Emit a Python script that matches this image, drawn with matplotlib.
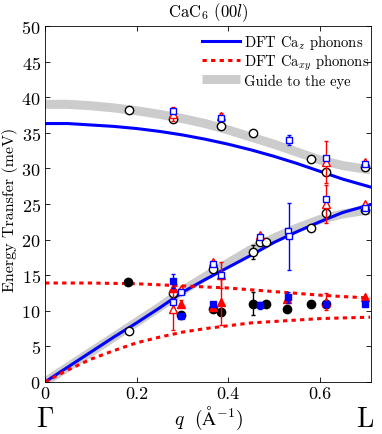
import matplotlib
matplotlib.use("Agg")
import matplotlib.pyplot as plt

plt.rcParams["font.family"] = "serif"
plt.rcParams["font.serif"] = ["cmr10", "DejaVu Serif"]
plt.rcParams["mathtext.fontset"] = "cm"
plt.rcParams["axes.formatter.use_mathtext"] = True

# model / guide curves
q_curve = [0.0, 0.05, 0.1, 0.15, 0.2, 0.25, 0.3, 0.35, 0.4, 0.45, 0.5, 0.55, 0.6, 0.65, 0.71]
guide_opt = [39.0, 39.0, 38.8, 38.5, 38.1, 37.6, 37.0, 36.3, 35.4, 34.4, 33.4, 32.3, 31.2, 30.4, 29.8]
guide_ac = [0.0, 2.1, 4.2, 6.3, 8.4, 10.5, 12.8, 14.8, 16.7, 18.6, 20.2, 21.6, 22.8, 23.6, 24.2]
caz_opt = [36.3, 36.3, 36.1, 35.9, 35.6, 35.2, 34.7, 34.1, 33.4, 32.6, 31.7, 30.7, 29.6, 28.5, 27.4]
caz_ac = [0.0, 2.1, 4.2, 6.3, 8.3, 10.4, 12.6, 14.4, 16.1, 17.8, 19.6, 21.1, 22.5, 23.8, 24.9]
caxy_opt = [13.9, 13.9, 13.9, 13.85, 13.8, 13.65, 13.5, 13.35, 13.2, 12.95, 12.7, 12.45, 12.2, 12.0, 11.8]
caxy_ac = [0.0, 1.7, 3.2, 4.4, 5.5, 6.3, 7.0, 7.5, 7.9, 8.3, 8.5, 8.7, 8.9, 9.0, 9.1]

# measured points: (q, E, error)
circ_open_q = [0.184, 0.280, 0.384, 0.455, 0.582, 0.613, 0.699,
               0.184, 0.280, 0.366, 0.455, 0.469, 0.483, 0.582, 0.613, 0.699]
circ_open_e = [38.2, 37.0, 35.9, 35.0, 31.3, 29.5, 30.2,
               7.1, 12.5, 15.9, 18.3, 19.6, 19.7, 21.6, 23.7, 24.2]
circ_open_err = [0, 0, 0, 0.4, 0, 0, 0,
                 0, 0, 0, 1.0, 0, 0, 0, 0, 0]

circ_fill_q = [0.182, 0.298, 0.366, 0.384, 0.455, 0.483, 0.528, 0.582, 0.613]
circ_fill_e = [14.1, 9.4, 10.2, 9.9, 11.0, 11.0, 10.3, 11.0, 11.0]
circ_fill_err = [0, 0, 0, 0, 1.6, 0, 0, 0, 0]

tri_open_q = [0.280, 0.384, 0.613, 0.699, 0.280, 0.298, 0.366, 0.384, 0.469, 0.613, 0.699]
tri_open_e = [37.6, 37.3, 30.9, 30.9, 10.3, 13.0, 16.9, 15.0, 20.7, 25.0, 25.0]
tri_open_err = [1.0, 0.5, 3.0, 0, 3.0, 0, 0, 1.8, 0, 2.7, 0]

tri_fill_q = [0.280, 0.298, 0.366, 0.384, 0.528, 0.613, 0.699]
tri_fill_e = [13.2, 11.0, 10.6, 11.2, 11.6, 11.3, 11.9]
tri_fill_err = [0, 0.5, 0, 3.2, 0, 1.2, 0]

sq_open_q = [0.280, 0.384, 0.533, 0.613, 0.699, 0.280, 0.298, 0.366, 0.384, 0.469, 0.531, 0.533, 0.613, 0.699]
sq_open_e = [38.0, 37.1, 34.0, 31.5, 30.6, 11.2, 12.6, 16.6, 15.0, 20.4, 21.2, 20.5, 25.7, 24.5]
sq_open_err = [0, 0, 0.7, 0, 0, 0, 0, 0, 0, 0, 0, 4.7, 0, 0]

sq_fill_q = [0.280, 0.298, 0.366, 0.469, 0.531, 0.613, 0.699]
sq_fill_e = [14.2, 9.2, 11.0, 10.8, 11.9, 11.0, 11.0]
sq_fill_err = [1.0, 0, 0, 0.5, 0.8, 0, 0]

BLUE = "#0000ff"
RED = "#ff0000"
GRAY = "#cccccc"

fig = plt.figure(figsize=(3.82, 4.35), dpi=100)
ax = fig.add_axes([45 / 382, 1 - 383 / 435, 326 / 382, 356 / 435])

ax.plot(q_curve, guide_opt, color=GRAY, lw=6.5, solid_capstyle="butt", zorder=1)
ax.plot(q_curve, guide_ac, color=GRAY, lw=6.5, solid_capstyle="butt", zorder=1,
        label="Guide to the eye")
ax.plot(q_curve, caz_opt, color=BLUE, lw=2.2, zorder=2)
ax.plot(q_curve, caz_ac, color=BLUE, lw=2.2, zorder=2, label=r"DFT Ca$_z$ phonons")
dots = (0, (1.4, 1.4))
ax.plot(q_curve, caxy_opt, color=RED, lw=2.2, ls=dots, zorder=2)
ax.plot(q_curve, caxy_ac, color=RED, lw=2.2, ls=dots, zorder=2, label=r"DFT Ca$_{xy}$ phonons")


def points(qs, es, errs, marker, color, filled, ms, z):
    ax.errorbar(qs, es, yerr=errs, fmt="none", ecolor=color, elinewidth=1.0,
                capsize=1.5, capthick=1.0, zorder=z)
    ax.plot(qs, es, ls="none", marker=marker, ms=ms, mew=1.0, mec=color,
            mfc=color if filled else "white", zorder=z + 0.5)


points(circ_open_q, circ_open_e, circ_open_err, "o", "black", False, 6.0, 3)
points(circ_fill_q, circ_fill_e, circ_fill_err, "o", "black", True, 6.0, 3)
points(tri_open_q, tri_open_e, tri_open_err, "^", RED, False, 5.5, 4)
points(tri_fill_q, tri_fill_e, tri_fill_err, "^", RED, True, 5.5, 4)
points(sq_open_q, sq_open_e, sq_open_err, "s", BLUE, False, 5.0, 5)
points(sq_fill_q, sq_fill_e, sq_fill_err, "s", BLUE, True, 5.0, 5)

ax.set_xlim(0, 0.712)
ax.set_ylim(0, 50)
ax.set_xticks([0, 0.2, 0.4, 0.6])
ax.set_xticklabels(["0", "0.2", "0.4", "0.6"])
ax.set_yticks(range(0, 51, 5))
ax.tick_params(direction="in", length=3.5, width=0.6, top=True, right=True,
               labelsize=13, pad=3)
for s in ax.spines.values():
    s.set_linewidth(0.6)

ax.set_title(r"CaC$_6$ $(00l)$", fontsize=12, pad=7)
ax.text(0.5, -0.118, r"$q\ \ (\mathrm{\AA}^{-1})$", transform=ax.transAxes,
        ha="center", va="baseline", fontsize=14)
fig.text(10 / 382, 1 - 210 / 435, "Energy Transfer (meV)", rotation=90,
         ha="center", va="center", fontsize=11.5)
ax.text(0.0, -0.124, r"$\Gamma$", transform=ax.get_xaxis_transform(),
        ha="center", va="baseline", fontsize=20, clip_on=False)
ax.text(0.7, -0.124, r"$\mathrm{L}$", transform=ax.get_xaxis_transform(),
        ha="center", va="baseline", fontsize=20, clip_on=False)

handles, labels = ax.get_legend_handles_labels()
order = [1, 2, 0]
ax.legend([handles[i] for i in order], [labels[i] for i in order],
          loc="upper left", bbox_to_anchor=(202 / 382, 1 - 34 / 435),
          bbox_transform=fig.transFigure, frameon=False, fontsize=10.5,
          handlelength=2.6, handletextpad=0.3, borderpad=0, borderaxespad=0,
          labelspacing=0.1)

fig.savefig("out.png", dpi=100)
